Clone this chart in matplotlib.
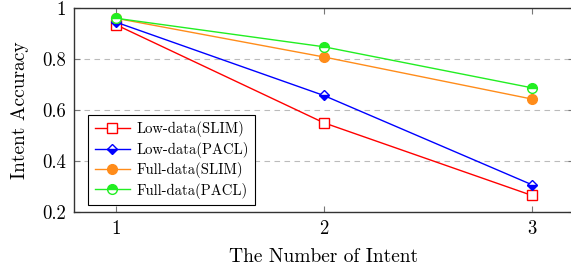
import matplotlib.pyplot as plt

plt.rcParams['font.family'] = 'cmr10'
plt.rcParams['axes.formatter.use_mathtext'] = True
plt.rcParams['mathtext.fontset'] = 'cm'

intents = [1, 2, 3]
low_slim = [0.935, 0.55, 0.265]
low_pacl = [0.945, 0.657, 0.307]
full_slim = [0.96, 0.808, 0.643]
full_pacl = [0.96, 0.848, 0.687]

fig = plt.figure(figsize=(5.71, 2.69), dpi=100)
ax = fig.add_axes([74 / 571, 1 - 212 / 269, (573.5 - 74) / 571, (212 - 8) / 269])

ax.plot(intents, low_slim, color='red', lw=1, marker='s', ms=6.5,
        mfc='white', mec='red', label='Low-data(SLIM)')
ax.plot(intents, low_pacl, color='blue', lw=1, marker='D', ms=5,
        fillstyle='bottom', mfc='blue', mfcalt='white', mec='blue', label='Low-data(PACL)')
ax.plot(intents, full_slim, color='#ff8c1a', lw=1, marker='o', ms=7,
        mfc='#ff8c1a', mec='#ff8c1a', label='Full-data(SLIM)')
ax.plot(intents, full_pacl, color='#22ee22', lw=1, marker='o', ms=7,
        fillstyle='top', mfc='#22ee22', mfcalt='white', mec='#22ee22', label='Full-data(PACL)')

ax.set_xlim(0.8, 3.2)
ax.set_ylim(0.2, 1.0)
ax.set_xticks(intents)
ax.set_yticks([0.2, 0.4, 0.6, 0.8, 1.0])
ax.set_yticklabels(['0.2', '0.4', '0.6', '0.8', '1'])
ax.tick_params(direction='in', length=4, width=0.8, color='#777777',
               top=True, right=True, labelsize=13.5, pad=6)
ax.yaxis.grid(True, ls=(0, (5, 4)), color='#bbbbbb', lw=0.8)
for s in ax.spines.values():
    s.set_color('#333333')
    s.set_linewidth(1.0)

ax.set_xlabel('The Number of Intent', fontsize=14, labelpad=7)
ax.set_ylabel('Intent Accuracy', fontsize=14, labelpad=9)

leg = ax.legend(loc='lower left', bbox_to_anchor=(0.028, 0.034), borderaxespad=0,
                fontsize=10.5, fancybox=False, edgecolor='black', framealpha=1,
                handlelength=2.4, handletextpad=0.45, borderpad=0.45,
                labelspacing=0.3)
leg.get_frame().set_linewidth(0.8)

fig.savefig('out.png', dpi=100)
